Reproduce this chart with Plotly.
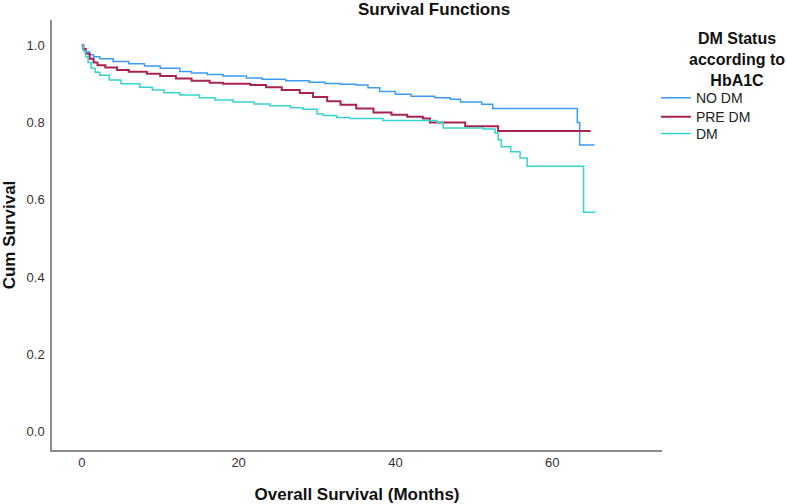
import plotly.graph_objects as go

# Kaplan-Meier step data
nodm_t = [0, 0.2, 0.5, 1, 1.5, 2.3, 4, 6, 8, 10, 12.5, 14, 16, 18, 21, 23, 26, 29, 31, 33, 35, 36.5, 38, 40, 42, 45, 47, 48.3, 51, 52.4, 63.2, 63.5, 65.4]
nodm_s = [1.0, 0.99, 0.982, 0.975, 0.97, 0.965, 0.958, 0.952, 0.946, 0.940, 0.932, 0.928, 0.924, 0.920, 0.915, 0.912, 0.908, 0.904, 0.901, 0.899, 0.897, 0.890, 0.880, 0.873, 0.868, 0.864, 0.860, 0.853, 0.847, 0.836, 0.80, 0.742, 0.742]

pre_t = [0, 0.2, 0.5, 1, 1.5, 2, 3, 4.5, 6, 8.3, 10, 12, 14, 16.3, 18, 21.5, 23.5, 25.5, 27.8, 29.5, 31.3, 33, 35, 37.2, 39.5, 41.5, 43.5, 44.4, 48.9, 53.1, 64.9]
pre_s = [1.0, 0.99, 0.978, 0.965, 0.955, 0.948, 0.942, 0.936, 0.931, 0.926, 0.92, 0.914, 0.908, 0.903, 0.900, 0.897, 0.891, 0.884, 0.876, 0.866, 0.855, 0.846, 0.836, 0.826, 0.82, 0.815, 0.81, 0.80, 0.79, 0.778, 0.778]

dm_t = [0, 0.2, 0.5, 0.8, 1.2, 1.7, 2.3, 3.5, 5, 7.4, 9, 10.5, 12.5, 15, 17, 19.3, 22, 24, 26.6, 28.2, 30, 30.8, 32.5, 34.2, 38.4, 45.3, 46.1, 51.2, 52.7, 53.1, 53.5, 54.7, 55.9, 56.8, 64, 65.5]
dm_s = [1.0, 0.985, 0.97, 0.955, 0.94, 0.93, 0.922, 0.91, 0.9, 0.891, 0.884, 0.877, 0.871, 0.864, 0.858, 0.853, 0.848, 0.843, 0.838, 0.834, 0.822, 0.818, 0.813, 0.810, 0.805, 0.80, 0.786, 0.783, 0.773, 0.755, 0.737, 0.724, 0.708, 0.687, 0.568, 0.568]

names = ["NO DM", "PRE DM", "DM"]
colors = ["#3a9cf2", "#a8234f", "#36d3d0"]
widths = [1.5, 2, 1.5]
x_ticks = [0, 20, 40, 60]
y_ticks = [0.0, 0.2, 0.4, 0.6, 0.8, 1.0]

legend_ids = ["legend", "legend2", "legend3"]
legend_y = [0.818, 0.774, 0.735]

fig = go.Figure()
for n, t, s, c, w, lg in zip(names, [nodm_t, pre_t, dm_t], [nodm_s, pre_s, dm_s], colors, widths, legend_ids):
    fig.add_trace(go.Scatter(x=t, y=s, mode="lines", name=n, legend=lg,
                             line=dict(color=c, width=w, shape="hv")))

font = "Liberation Sans, Arial, sans-serif"
leg_common = dict(x=0.99, xanchor="left", yanchor="middle",
                  font=dict(size=14, color="#222"), bgcolor="rgba(0,0,0,0)",
                  itemwidth=30, borderwidth=0)
fig.update_layout(
    width=787, height=504,
    margin=dict(l=52, r=125, t=20, b=54),
    paper_bgcolor="white", plot_bgcolor="white",
    font=dict(family=font, color="#222"),
    showlegend=True,
    legend=dict(y=legend_y[0], **leg_common),
    legend2=dict(y=legend_y[1], **leg_common),
    legend3=dict(y=legend_y[2], **leg_common),
    xaxis=dict(range=[-3.8, 74], tickvals=x_ticks, showgrid=False, zeroline=False,
               showline=True, linecolor="#8c8c8c", linewidth=1.5, ticks="",
               ticklabelstandoff=0, automargin=False,
               tickfont=dict(size=13, color="#333"),
               title=dict(text="<b>Overall Survival (Months)</b>", font=dict(size=17, color="#111"), standoff=24)),
    yaxis=dict(range=[-0.047, 1.065], tickvals=y_ticks, tickformat=".1f", showgrid=False, zeroline=False,
               showline=True, linecolor="#8c8c8c", linewidth=1.5, ticks="",
               ticklabelstandoff=3, automargin=False,
               tickfont=dict(size=13, color="#333"),
               title=dict(text="<b>Cum Survival</b>", font=dict(size=17, color="#111"), standoff=11)),
)

fig.add_annotation(text="<b>Survival Functions</b>", xref="paper", yref="paper",
                   x=0.626, y=1.025, xanchor="center", yanchor="middle", showarrow=False,
                   font=dict(size=17, color="#111"))
fig.add_annotation(text="<b>DM Status<br>according to<br>HbA1C</b>", xref="paper", yref="paper",
                   x=1.123, y=0.982, xanchor="center", yanchor="top", showarrow=False, align="center",
                   font=dict(size=16, color="#111"))

fig.write_html("out.html")
